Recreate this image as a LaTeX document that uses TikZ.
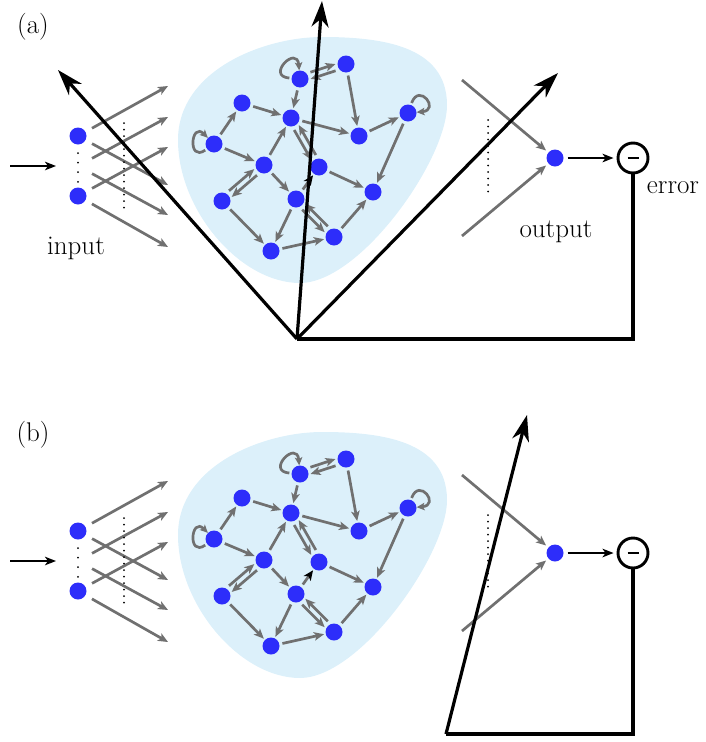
\documentclass[tikz,border=0pt]{standalone}
\usepackage{fontspec}
\usetikzlibrary{arrows.meta,calc}
\definecolor{blobblue}{RGB}{220,240,250}
\definecolor{nodeblue}{RGB}{45,45,250}
\definecolor{edgegray}{RGB}{112,112,112}
\tikzset{
 neuron/.style={circle, fill=nodeblue, minimum size=17pt, inner sep=0pt},
 gedge/.style={draw=edgegray, line width=2.7pt, -{Stealth[length=10pt,width=8.5pt,inset=2.5pt]}, shorten <=3pt, shorten >=1.5pt},
 gdbl/.style={gedge, shorten <=12pt, shorten >=10pt},
 ginput/.style={gedge, shorten <=16pt, shorten >=0pt},
 gloop/.style={draw=edgegray, line width=2.7pt, -{Stealth[length=8pt,width=7.5pt,inset=2pt]}, shorten <=2pt},
 axisarrow/.style={line width=3.2pt, -{Stealth[length=26pt,width=17pt,inset=8pt]}},
 blackarrow/.style={line width=2.8pt, -{Stealth[length=11pt,width=8.5pt,inset=3pt]}},
 dotline/.style={line width=2pt, dash pattern=on 0pt off 6.5pt, line cap=round},
 dotsmall/.style={line width=2pt, dash pattern=on 0pt off 9.6pt, line cap=round},
 errcirc/.style={circle, draw, line width=2.9pt, minimum size=30pt, inner sep=0pt},
 lbl/.style={font=\fontsize{27}{32}\selectfont, inner sep=0pt},
}
\newcommand\dbledge[4]{\draw[gdbl] ($(#1)!3.2pt!#3:(#2)$) -- ($(#2)!3.2pt!#4:(#1)$);}
\newcommand\drawnet{%
 \fill[blobblue] (322,37) .. controls (380,37) and (447,45) .. (447,105)
   .. controls (447,160) and (360,283) .. (300,283)
   .. controls (240,283) and (178,210) .. (178,140)
   .. controls (178,70) and (264,37) .. (322,37) -- cycle;
 \node[neuron] (A) at (300,79) {};
 \node[neuron] (B) at (346,64) {};
 \node[neuron] (C) at (242,103) {};
 \node[neuron] (D) at (291,118) {};
 \node[neuron] (E) at (359,136) {};
 \node[neuron] (F) at (408,113) {};
 \node[neuron] (G) at (214,144) {};
 \node[neuron] (H) at (264,165) {};
 \node[neuron] (I) at (319,167) {};
 \node[neuron] (J) at (222,201) {};
 \node[neuron] (K) at (296,199) {};
 \node[neuron] (L) at (373,192) {};
 \node[neuron] (M) at (334,237) {};
 \node[neuron] (N) at (271,251) {};
 \draw[gedge] (A) -- (D);
 \draw[gedge] (B) -- (E);
 \draw[gedge] (C) -- (D);
 \draw[gedge] (D) -- (E);
 \draw[gedge] (E) -- (F);
 \draw[gedge] (F) -- (L);
 \draw[gedge] (G) -- (C);
 \draw[gedge] (G) -- (H);
 \draw[gedge] (H) -- (D);
 \draw[gedge] (H) -- (K);
 \draw[gedge] (I) -- (L);
 \draw[gedge] (K) -- (N);
 \draw[gedge] (J) -- (N);
 \draw[gedge] (N) -- (M);
 \draw[gedge] (M) -- (L);
 \draw[gedge, -{Stealth[length=10pt,width=8.5pt,inset=2.5pt,color=black]}] (K) -- (I);
 \dbledge{A}{B}{90}{-90}
 \dbledge{B}{A}{90}{-90}
 \dbledge{D}{I}{-90}{90}
 \dbledge{I}{D}{-90}{90}
 \dbledge{J}{H}{90}{-90}
 \dbledge{H}{J}{90}{-90}
 \dbledge{K}{M}{-90}{90}
 \dbledge{M}{K}{-90}{90}
 \draw[gloop] (A.175) .. controls +(-175:26) and +(-95:26) .. (A.95);
 \draw[gloop] (G.215) .. controls +(-215:24) and +(-135:24) .. (G.135);
 \draw[gloop] (F.70) .. controls +(-70:24) and +(-5:24) .. (F.5);
 % input layer
 \node[neuron] (in1) at (78,136) {};
 \node[neuron] (in2) at (78,196) {};
 \coordinate (inm) at (78,166);
 \coordinate (src) at (10,166);
 \coordinate (r1) at (168,86);
 \coordinate (r2) at (168,117);
 \coordinate (r3) at (168,147);
 \coordinate (r4) at (168,185);
 \coordinate (r5) at (168,215);
 \coordinate (r6) at (168,247);
 \draw[ginput] (in1.center) -- (r1);
 \draw[ginput] (in1.center) -- (r4);
 \draw[ginput] (inm) -- (r2);
 \draw[ginput] (inm) -- (r5);
 \draw[ginput] (in2.center) -- (r3);
 \draw[ginput] (in2.center) -- (r6);
 \draw[dotsmall] ($(in1)+(0,17)$) -- ($(in2)+(0,-14)$);
 \draw[dotline] (124,123) -- (124,208);
 \draw[blackarrow, shorten >=22pt] (src) -- (inm);
 % output
 \node[neuron] (out) at (555,158) {};
 \coordinate (o1) at (462,80);
 \coordinate (o2) at (462,236);
 \draw[gedge, shorten <=0pt, shorten >=3pt] (o1) -- (out);
 \draw[gedge, shorten <=0pt, shorten >=3pt] (o2) -- (out);
 \draw[dotline] (488,120) -- (488,197);
 \node[errcirc] (err) at (633,158) {};
 \draw[line width=2.8pt] ($(err.center)+(-5.5,0)$) -- ($(err.center)+(5.5,0)$);
 \draw[blackarrow, shorten <=4pt, shorten >=3pt] (out) -- (err);
}
\begin{document}
\begin{tikzpicture}[x=1pt,y=-1pt]
\useasboundingbox (0,0) rectangle (705,742);
\begin{scope}[name prefix=a-]
 \drawnet
 \coordinate (O) at (297,339);
 \coordinate (T1) at (58,70);
 \coordinate (T2) at (322,1);
 \coordinate (T3) at (558,73);
 \draw[axisarrow] (O) -- (T1);
 \draw[axisarrow] (O) -- (T2);
 \draw[axisarrow] (O) -- (T3);
 \draw[line width=3.2pt, line join=miter] (err.south) |- (O);
 \node[lbl, anchor=base] (inputlbl) at (76,254) {input};
 \node[lbl, anchor=base] (outputlbl) at (556,237) {output};
 \node[lbl, anchor=base] (errorlbl) at (673,193) {error};
 \node[lbl] (alabel) at (33,27) {(a)};
\end{scope}
\begin{scope}[shift={(0,395)}, name prefix=b-]
 \drawnet
 \coordinate (O) at (446,339);
 \coordinate (T) at (527,20);
 \draw[axisarrow] (O) -- (T);
 \draw[line width=3.2pt, line join=miter] (err.south) |- (O);
 \node[lbl] (blabel) at (33,40) {(b)};
\end{scope}
\end{tikzpicture}
\end{document}
